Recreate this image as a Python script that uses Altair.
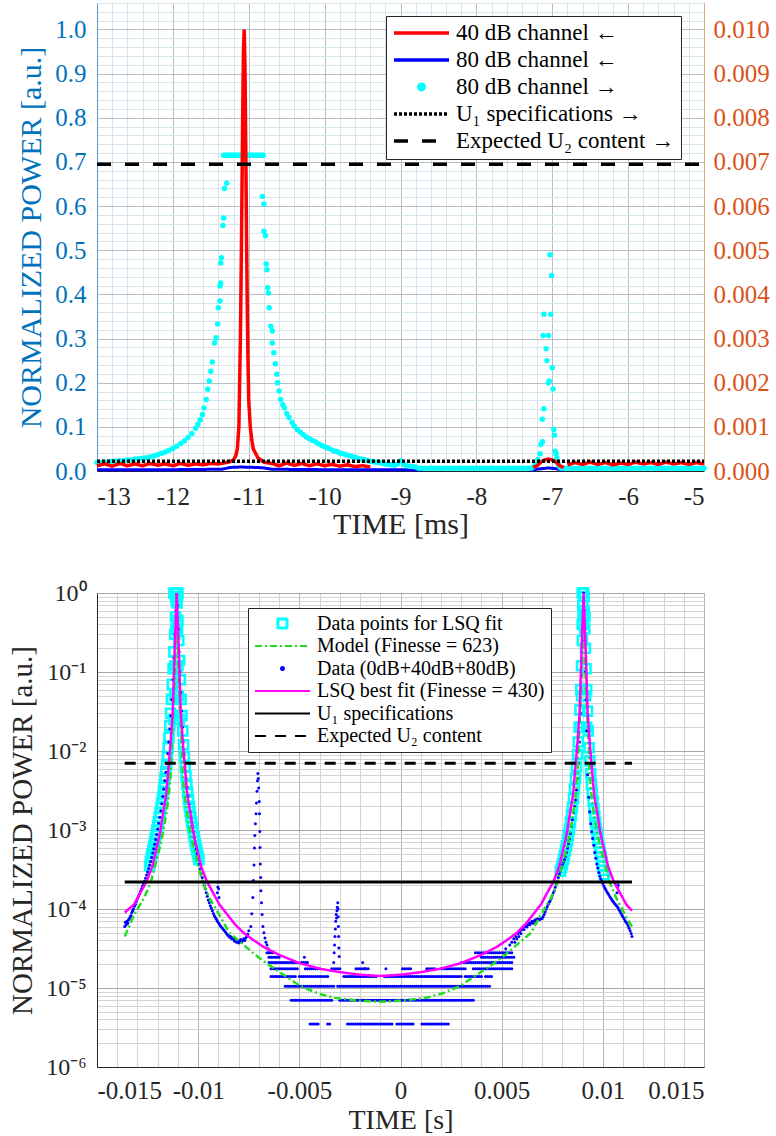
import altair as alt
import pandas as pd

FONT = "Liberation Serif"
INK = "#262626"
LEFT_C = "#0072BD"
RIGHT_C = "#D95319"

# ======================= TOP PANEL (time in ms) =======================
TOP_SERIES = ["40 dB channel ←", "80 dB channel ←", "80 dB channel →",
              "U₁ specifications →", "Expected U₂ content →"]
TOP_COLORS = ["#ff0000", "#0000ff", "#00ffff", "#000000", "#000000"]
TOP_SHAPES = ["stroke", "stroke", "circle", "stroke", "stroke"]
TOP_DASHES = [[1, 0], [1, 0], [1, 0], [3, 2], [14, 14]]
TOP_SIZES = [3025, 3025, 30, 3025, 3025]
TOP_T_RANGE = [-13, -5]

# 40 dB channel (left axis) – three visible stretches
red_seg1 = [(-13.0, 0.012), (-12.9, 0.016), (-12.8, 0.011), (-12.7, 0.017), (-12.6, 0.012),
            (-12.5, 0.016), (-12.4, 0.012), (-12.3, 0.017), (-12.2, 0.013), (-12.1, 0.016),
            (-12.0, 0.012), (-11.9, 0.017), (-11.8, 0.013), (-11.7, 0.016), (-11.6, 0.014),
            (-11.5, 0.017), (-11.4, 0.016), (-11.3, 0.019), (-11.25, 0.021), (-11.2, 0.025),
            (-11.17, 0.035), (-11.15, 0.05), (-11.13, 0.10), (-11.12, 0.20), (-11.11, 0.30),
            (-11.10, 0.45), (-11.09, 0.62), (-11.08, 0.80), (-11.07, 0.95), (-11.06, 1.0),
            (-11.05, 0.92), (-11.04, 0.75), (-11.03, 0.55), (-11.02, 0.38), (-11.01, 0.25),
            (-11.00, 0.16), (-10.98, 0.10), (-10.96, 0.07), (-10.94, 0.05), (-10.91, 0.04),
            (-10.88, 0.03), (-10.84, 0.025), (-10.8, 0.02), (-10.7, 0.017), (-10.6, 0.012),
            (-10.5, 0.018), (-10.4, 0.013), (-10.3, 0.017), (-10.2, 0.012), (-10.1, 0.016),
            (-10.0, 0.012), (-9.9, 0.015), (-9.8, 0.011), (-9.7, 0.014), (-9.6, 0.010),
            (-9.5, 0.012), (-9.4, 0.009)]
red_seg2 = [(-7.25, 0.008), (-7.2, 0.012), (-7.15, 0.02), (-7.1, 0.025), (-7.05, 0.027),
            (-7.0, 0.025), (-6.95, 0.02), (-6.9, 0.012), (-6.85, 0.008)]
red_seg3 = [(-6.8, 0.014), (-6.7, 0.019), (-6.6, 0.015), (-6.5, 0.02), (-6.4, 0.015),
            (-6.3, 0.019), (-6.2, 0.014), (-6.1, 0.018), (-6.0, 0.015), (-5.9, 0.02),
            (-5.8, 0.016), (-5.7, 0.019), (-5.6, 0.015), (-5.5, 0.02), (-5.4, 0.016),
            (-5.3, 0.019), (-5.2, 0.015), (-5.1, 0.019), (-5.0, 0.016)]

# 80 dB channel (left axis)
blue_seg1 = [(-13.0, 0.003), (-12.0, 0.003), (-11.35, 0.004), (-11.25, 0.008), (-11.1, 0.009),
             (-10.9, 0.008), (-10.8, 0.007), (-10.7, 0.004), (-10.0, 0.003), (-9.0, 0.003),
             (-8.7, 0.003)]
blue_seg2 = [(-7.3, 0.002), (-7.15, 0.005), (-7.05, 0.007), (-6.95, 0.005), (-6.85, 0.002)]

# 80 dB channel (right axis) – points
cyan_left = [(-13.00, 0.00019), (-12.95, 0.00019), (-12.90, 0.00020), (-12.85, 0.00021),
             (-12.80, 0.00022), (-12.75, 0.00022), (-12.70, 0.00023), (-12.65, 0.00024),
             (-12.60, 0.00025), (-12.55, 0.00025), (-12.50, 0.00027), (-12.45, 0.00028),
             (-12.40, 0.00029), (-12.35, 0.00030), (-12.30, 0.00032), (-12.25, 0.00034),
             (-12.20, 0.00037), (-12.15, 0.00040), (-12.10, 0.00043), (-12.05, 0.00047),
             (-12.00, 0.00051), (-11.95, 0.00056), (-11.90, 0.00062), (-11.85, 0.00068),
             (-11.80, 0.00076), (-11.75, 0.00085), (-11.70, 0.00097), (-11.67, 0.00106),
             (-11.64, 0.00116), (-11.61, 0.00128), (-11.59, 0.00143), (-11.56, 0.00162),
             (-11.54, 0.00185), (-11.52, 0.00204), (-11.50, 0.00226), (-11.48, 0.00247),
             (-11.45, 0.00290), (-11.43, 0.00302), (-11.41, 0.00333), (-11.40, 0.00370),
             (-11.38, 0.00385), (-11.38, 0.00419), (-11.37, 0.00426), (-11.37, 0.00471),
             (-11.36, 0.00483), (-11.34, 0.00556), (-11.33, 0.00573), (-11.32, 0.00640),
             (-11.29, 0.00652)]
cyan_sat_t = [-11.33, -11.31, -11.29, -11.27, -11.25, -11.23, -11.21, -11.19, -11.17, -11.15,
              -11.13, -11.11, -11.09, -11.07, -11.05, -11.03, -11.01, -10.99, -10.97, -10.95,
              -10.93, -10.91, -10.89, -10.87, -10.85, -10.83, -10.81]
CYAN_SAT = 0.00715
cyan_right = [(-10.82, 0.00622), (-10.80, 0.00605), (-10.80, 0.00543), (-10.78, 0.00533),
              (-10.77, 0.00469), (-10.76, 0.00456), (-10.75, 0.00415), (-10.74, 0.00403),
              (-10.73, 0.00370), (-10.71, 0.00328), (-10.69, 0.00317), (-10.69, 0.00290),
              (-10.67, 0.00268), (-10.65, 0.00243), (-10.63, 0.00219), (-10.62, 0.00200),
              (-10.60, 0.00181), (-10.58, 0.00162), (-10.55, 0.00150), (-10.53, 0.00143),
              (-10.50, 0.00130), (-10.47, 0.00121), (-10.43, 0.00110), (-10.40, 0.00102),
              (-10.36, 0.00094), (-10.32, 0.00088), (-10.28, 0.00082), (-10.24, 0.00077),
              (-10.20, 0.00073), (-10.16, 0.00069), (-10.12, 0.00066), (-10.08, 0.00062),
              (-10.04, 0.00058), (-10.00, 0.00055), (-9.96, 0.00052), (-9.92, 0.00049),
              (-9.88, 0.00046), (-9.84, 0.00044), (-9.80, 0.00041), (-9.76, 0.00039),
              (-9.72, 0.00037), (-9.68, 0.00035), (-9.64, 0.00033), (-9.60, 0.00031),
              (-9.56, 0.00029), (-9.52, 0.00027), (-9.48, 0.00026), (-9.44, 0.00024),
              (-9.40, 0.00022), (-9.36, 0.00021), (-9.32, 0.00020), (-9.28, 0.00019),
              (-9.24, 0.00017), (-9.20, 0.00016), (-9.16, 0.00015), (-9.12, 0.00014),
              (-9.08, 0.00013), (-9.04, 0.00016), (-9.00, 0.00023), (-8.96, 0.00015),
              (-8.92, 0.00012), (-8.88, 0.00011), (-8.84, 0.00010), (-8.80, 0.00009)]
cyan_spike = [(-7.03, 0.00490), (-7.01, 0.00443), (-7.11, 0.00355), (-7.02, 0.00355),
              (-7.12, 0.00307), (-7.05, 0.00307), (-7.08, 0.00277), (-7.07, 0.00250),
              (-7.00, 0.00234), (-7.05, 0.00200), (-7.04, 0.00204), (-6.99, 0.00186),
              (-7.11, 0.00141), (-7.13, 0.00117), (-6.98, 0.00094), (-6.97, 0.00081),
              (-7.13, 0.00066), (-7.15, 0.00060), (-7.16, 0.00039), (-6.96, 0.00045),
              (-6.95, 0.00039), (-6.94, 0.00030), (-7.19, 0.00026), (-7.22, 0.00015),
              (-6.92, 0.00015), (-7.25, 0.00009), (-6.90, 0.00009)]
cyan_flat_segments = [(-8.76, -7.28), (-6.88, -5.0)]
CYAN_FLAT = 0.00006
CYAN_STEP = 0.04

U1_TOP = 0.00022
U2_TOP = 0.00695

# ======================= BOTTOM PANEL (time in s) =======================
BOT_SERIES = ["Data points for LSQ fit", "Model (Finesse = 623)", "Data (0dB+40dB+80dB)",
              "LSQ best fit (Finesse = 430)", "U₁ specifications", "Expected U₂ content"]
BOT_COLORS = ["#00ffff", "#22dd22", "#0000ff", "#ff00ff", "#000000", "#000000"]
OPEN_SQUARE = "M-1,-1H1V1H-1Z M-0.8,-0.8V0.8H0.8V-0.8Z"
BOT_SHAPES = [OPEN_SQUARE, "stroke", "circle", "stroke", "stroke", "stroke"]
BOT_DASHES = [[1, 0], [7, 3, 2, 3], [1, 0], [1, 0], [1, 0], [11, 9]]
BOT_SIZES = [100, 3025, 9, 3025, 3025, 3025]
BOT_T_RANGE = [-0.015, 0.015]
BOT_LINE_SPAN = [-0.01363, 0.01144]
U1_BOT = 2.2e-4
U2_BOT = 7.0e-3

lsq_fit = [(-0.01363, 9.0e-5), (-0.01316, 1.15e-4), (-0.01286, 1.6e-4), (-0.01256, 2.2e-4),
           (-0.01226, 3.5e-4), (-0.01196, 7.5e-4), (-0.01186, 1.0e-3), (-0.01176, 1.5e-3),
           (-0.01161, 2.5e-3), (-0.01156, 3.2e-3), (-0.01146, 6.5e-3), (-0.01136, 1.3e-2),
           (-0.01126, 3.0e-2), (-0.01116, 0.2), (-0.0111, 0.5), (-0.01106, 1.0),
           (-0.01102, 0.5), (-0.01096, 0.2), (-0.01086, 0.03), (-0.01076, 0.013),
           (-0.01066, 6.5e-3), (-0.01056, 3.2e-3), (-0.01051, 2.5e-3), (-0.01036, 1.5e-3),
           (-0.01026, 1.0e-3), (-0.01016, 7.5e-4), (-0.00986, 3.5e-4), (-0.00956, 2.2e-4),
           (-0.00926, 1.6e-4), (-0.00896, 1.15e-4), (-0.00856, 8.5e-5), (-0.00816, 6.3e-5),
           (-0.00776, 5.0e-5), (-0.00736, 4.2e-5), (-0.00676, 3.3e-5), (-0.00596, 2.6e-5),
           (-0.00496, 2.05e-5), (-0.00396, 1.75e-5), (-0.00296, 1.58e-5), (-0.00196, 1.47e-5),
           (-0.001, 1.42e-5), (-0.00005, 1.47e-5), (0.00095, 1.58e-5), (0.00195, 1.75e-5),
           (0.00295, 2.05e-5), (0.00395, 2.6e-5), (0.00475, 3.3e-5), (0.00535, 4.2e-5),
           (0.00575, 5.0e-5), (0.00615, 6.3e-5), (0.00655, 8.5e-5), (0.00695, 1.15e-4),
           (0.00725, 1.6e-4), (0.00755, 2.2e-4), (0.00785, 3.5e-4), (0.00815, 7.5e-4),
           (0.00825, 1.0e-3), (0.00835, 1.5e-3), (0.0085, 2.5e-3), (0.00855, 3.2e-3),
           (0.00865, 6.5e-3), (0.00875, 1.3e-2), (0.00885, 3.0e-2), (0.00895, 0.2),
           (0.00901, 0.5), (0.00905, 1.0), (0.00909, 0.5), (0.00915, 0.2), (0.00925, 0.03),
           (0.00935, 0.013), (0.00945, 6.5e-3), (0.00955, 3.2e-3), (0.0096, 2.5e-3),
           (0.00975, 1.5e-3), (0.00985, 1.0e-3), (0.00995, 7.5e-4), (0.01025, 3.5e-4),
           (0.01055, 2.2e-4), (0.01085, 1.6e-4), (0.01115, 1.15e-4), (0.01144, 9.5e-5)]

model = [(-0.01363, 4.5e-5), (-0.01316, 8.5e-5), (-0.01266, 1.4e-4), (-0.01234, 2.2e-4),
         (-0.01201, 4.6e-4), (-0.01186, 6.5e-4), (-0.01168, 1.1e-3), (-0.01156, 1.7e-3),
         (-0.01146, 2.6e-3), (-0.01136, 5.0e-3), (-0.01131, 1.2e-2), (-0.01121, 4.0e-2),
         (-0.01114, 0.12), (-0.01109, 0.45), (-0.01106, 1.0), (-0.01103, 0.45),
         (-0.01098, 0.12), (-0.01091, 0.04), (-0.01081, 0.012), (-0.01076, 5.0e-3),
         (-0.01066, 2.6e-3), (-0.01056, 1.7e-3), (-0.01044, 1.1e-3), (-0.01026, 6.5e-4),
         (-0.01011, 4.6e-4), (-0.00978, 2.2e-4), (-0.00946, 1.4e-4), (-0.00896, 8.5e-5),
         (-0.00846, 5.0e-5), (-0.00786, 3.7e-5), (-0.00716, 2.6e-5), (-0.00656, 2.0e-5),
         (-0.00556, 1.35e-5), (-0.00496, 1.06e-5), (-0.00406, 8.5e-6), (-0.00326, 7.5e-6),
         (-0.00206, 6.9e-6), (-0.001, 6.7e-6), (0.00005, 6.9e-6), (0.00125, 7.5e-6),
         (0.00205, 8.5e-6), (0.00295, 1.06e-5), (0.00355, 1.35e-5), (0.00455, 2.0e-5),
         (0.00515, 2.6e-5), (0.00585, 3.7e-5), (0.00645, 5.0e-5), (0.00695, 8.5e-5),
         (0.00745, 1.4e-4), (0.00777, 2.2e-4), (0.0081, 4.6e-4), (0.00825, 6.5e-4),
         (0.00843, 1.1e-3), (0.00855, 1.7e-3), (0.00865, 2.6e-3), (0.00875, 5.0e-3),
         (0.0088, 1.2e-2), (0.0089, 4.0e-2), (0.00897, 0.12), (0.00902, 0.45),
         (0.00905, 1.0), (0.00908, 0.45), (0.00913, 0.12), (0.0092, 0.04), (0.0093, 0.012),
         (0.00935, 5.0e-3), (0.00945, 2.6e-3), (0.00955, 1.7e-3), (0.00967, 1.1e-3),
         (0.00985, 6.5e-4), (0.01, 4.6e-4), (0.01033, 2.2e-4), (0.01065, 1.4e-4),
         (0.01115, 8.0e-5), (0.01144, 6.0e-5)]

fit_points_left = [(-0.0124, 3.5e-4), (-0.01236, 4.0e-4), (-0.01232, 4.5e-4), (-0.01228, 5.0e-4),
                   (-0.01224, 5.6e-4), (-0.0122, 6.2e-4), (-0.01216, 7.0e-4), (-0.01212, 7.8e-4),
                   (-0.01208, 8.8e-4), (-0.01204, 1.0e-3), (-0.012, 1.12e-3), (-0.01196, 1.27e-3),
                   (-0.01192, 1.45e-3), (-0.01188, 1.65e-3), (-0.01184, 1.9e-3), (-0.0118, 2.2e-3),
                   (-0.01176, 2.6e-3), (-0.01172, 3.1e-3), (-0.01168, 3.7e-3), (-0.01164, 4.5e-3),
                   (-0.0116, 5.5e-3), (-0.01156, 6.8e-3), (-0.01152, 8.5e-3), (-0.01148, 1.1e-2),
                   (-0.01144, 1.5e-2), (-0.0114, 2.1e-2), (-0.01136, 3.0e-2), (-0.01132, 4.5e-2),
                   (-0.01128, 7.0e-2), (-0.01124, 0.11), (-0.0112, 0.18), (-0.01116, 0.3),
                   (-0.01112, 0.5), (-0.01108, 0.8), (-0.01106, 1.0), (-0.01112, 0.9),
                   (-0.01102, 0.9), (-0.0111, 0.35), (-0.01102, 0.35), (-0.01114, 0.12),
                   (-0.011, 0.12), (-0.01116, 0.05), (-0.01098, 0.05), (-0.0112, 0.025),
                   (-0.01094, 0.025), (-0.0112, 1.0), (-0.011, 1.0),
                   (-0.01104, 0.75), (-0.011, 0.45), (-0.01096, 0.25), (-0.01092, 0.14),
                   (-0.01088, 0.08), (-0.01084, 0.045), (-0.0108, 0.028), (-0.01076, 0.018),
                   (-0.01072, 0.012), (-0.01068, 8.5e-3), (-0.01064, 6.3e-3), (-0.0106, 4.8e-3),
                   (-0.01056, 3.8e-3), (-0.01052, 3.0e-3), (-0.01048, 2.45e-3), (-0.01044, 2.0e-3),
                   (-0.0104, 1.7e-3), (-0.01036, 1.45e-3), (-0.01032, 1.25e-3), (-0.01028, 1.08e-3),
                   (-0.01024, 9.4e-4), (-0.0102, 8.2e-4), (-0.01016, 7.2e-4), (-0.01012, 6.4e-4),
                   (-0.01008, 5.7e-4), (-0.01004, 5.1e-4), (-0.01, 4.6e-4), (-0.00996, 4.2e-4)]
fit_points_right = [(0.0079, 3.0e-4), (0.00795, 3.3e-4), (0.008, 3.7e-4), (0.00805, 4.2e-4),
                    (0.0081, 4.8e-4), (0.00815, 5.5e-4), (0.0082, 6.3e-4), (0.00825, 7.3e-4),
                    (0.0083, 8.6e-4), (0.00835, 1.02e-3), (0.0084, 1.25e-3), (0.00845, 1.55e-3),
                    (0.0085, 1.95e-3), (0.00855, 2.5e-3), (0.0086, 3.3e-3), (0.00865, 4.5e-3),
                    (0.0087, 6.3e-3), (0.00875, 9.0e-3), (0.00879, 1.3e-2), (0.00883, 2.0e-2),
                    (0.00887, 3.3e-2), (0.00891, 6.0e-2), (0.00895, 0.12), (0.00899, 0.25),
                    (0.00902, 0.5), (0.00905, 1.0), (0.00898, 1.0), (0.00908, 0.9), (0.00901, 0.7),
                    (0.00898, 0.4), (0.00912, 0.5), (0.00895, 0.05), (0.00915, 0.05),
                    (0.0089, 0.02), (0.0092, 0.02),
                    (0.00908, 0.6), (0.00911, 0.35), (0.00914, 0.2), (0.00917, 0.11),
                    (0.0092, 0.06), (0.00924, 0.032), (0.00928, 0.018), (0.00932, 0.011),
                    (0.00936, 7.5e-3), (0.0094, 5.2e-3), (0.00944, 3.8e-3), (0.00948, 2.9e-3),
                    (0.00952, 2.3e-3), (0.00956, 1.85e-3), (0.0096, 1.5e-3), (0.00964, 1.25e-3),
                    (0.00968, 1.05e-3), (0.00972, 9.0e-4), (0.00976, 7.8e-4), (0.0098, 6.8e-4),
                    (0.00984, 5.9e-4), (0.00988, 5.2e-4), (0.00992, 4.6e-4), (0.00996, 4.0e-4),
                    (0.01, 3.5e-4), (0.01004, 3.1e-4), (0.01008, 2.7e-4)]

data_left_peak = [(-0.01363, 6.0e-5), (-0.0136, 6.8e-5), (-0.01356, 6.3e-5), (-0.01352, 7.0e-5),
                  (-0.01348, 6.6e-5), (-0.01344, 7.3e-5), (-0.0134, 7.6e-5), (-0.01336, 8.0e-5),
                  (-0.01332, 8.3e-5), (-0.01328, 9.0e-5), (-0.01324, 9.5e-5), (-0.0132, 1.0e-4),
                  (-0.01315, 1.08e-4), (-0.0131, 1.15e-4), (-0.01305, 1.25e-4), (-0.013, 1.35e-4),
                  (-0.01295, 1.45e-4), (-0.0129, 1.55e-4), (-0.01285, 1.68e-4), (-0.0128, 1.8e-4),
                  (-0.01275, 1.95e-4), (-0.0127, 2.1e-4), (-0.01265, 2.25e-4), (-0.0126, 2.45e-4),
                  (-0.01255, 2.7e-4), (-0.0125, 2.95e-4), (-0.01245, 3.25e-4), (-0.0124, 3.6e-4),
                  (-0.01235, 4.0e-4), (-0.0123, 4.5e-4), (-0.01225, 5.1e-4), (-0.0122, 5.8e-4),
                  (-0.01215, 6.6e-4), (-0.0121, 7.6e-4), (-0.01205, 8.8e-4), (-0.012, 1.03e-3),
                  (-0.01195, 1.22e-3), (-0.0119, 1.45e-3), (-0.01185, 1.75e-3), (-0.0118, 2.15e-3),
                  (-0.01175, 2.65e-3), (-0.0117, 3.3e-3), (-0.01165, 4.2e-3), (-0.0116, 5.4e-3),
                  (-0.01155, 7.0e-3), (-0.0115, 9.3e-3), (-0.01145, 1.3e-2), (-0.0114, 1.9e-2),
                  (-0.01135, 2.8e-2), (-0.0113, 4.5e-2), (-0.01125, 8.0e-2), (-0.0112, 0.15),
                  (-0.01115, 0.3), (-0.0111, 0.6), (-0.01106, 0.95), (-0.01102, 0.7),
                  (-0.01098, 0.35), (-0.01094, 0.18), (-0.0109, 0.1), (-0.01086, 0.055),
                  (-0.01082, 0.032), (-0.01078, 0.02), (-0.01074, 0.013), (-0.0107, 9.0e-3),
                  (-0.01065, 6.3e-3), (-0.0106, 4.6e-3), (-0.01055, 3.5e-3), (-0.0105, 2.7e-3),
                  (-0.01045, 2.1e-3), (-0.0104, 1.7e-3), (-0.01035, 1.4e-3), (-0.0103, 1.15e-3),
                  (-0.01025, 9.6e-4), (-0.0102, 8.0e-4), (-0.01015, 6.8e-4), (-0.0101, 5.8e-4),
                  (-0.01005, 5.0e-4), (-0.01, 4.3e-4), (-0.00995, 3.7e-4), (-0.0099, 3.2e-4),
                  (-0.00985, 2.8e-4), (-0.0098, 2.5e-4), (-0.00975, 2.2e-4), (-0.0097, 2.0e-4),
                  (-0.00965, 1.8e-4), (-0.0096, 1.6e-4), (-0.00955, 1.45e-4), (-0.0095, 1.3e-4),
                  (-0.00945, 1.2e-4), (-0.0094, 1.1e-4), (-0.00935, 1.02e-4), (-0.0093, 9.5e-5),
                  (-0.00925, 8.8e-5), (-0.0092, 8.2e-5), (-0.00915, 7.8e-5), (-0.0091, 7.4e-5),
                  (-0.00905, 7.0e-5), (-0.009, 6.7e-5), (-0.00895, 6.4e-5), (-0.0089, 6.1e-5),
                  (-0.00885, 5.9e-5), (-0.0088, 5.7e-5), (-0.00875, 5.5e-5), (-0.0087, 5.3e-5),
                  (-0.00865, 5.1e-5), (-0.0086, 4.9e-5), (-0.00855, 4.7e-5), (-0.0085, 4.6e-5),
                  (-0.00845, 4.4e-5), (-0.0084, 4.5e-5), (-0.00835, 4.2e-5), (-0.0083, 4.3e-5),
                  (-0.00825, 4.1e-5), (-0.0082, 3.9e-5), (-0.00815, 4.2e-5), (-0.0081, 3.8e-5),
                  (-0.00805, 4.0e-5), (-0.008, 3.7e-5), (-0.00795, 3.9e-5), (-0.0079, 4.1e-5),
                  (-0.00785, 3.8e-5), (-0.0078, 4.0e-5), (-0.00775, 4.2e-5), (-0.0077, 4.0e-5),
                  (-0.00765, 4.3e-5), (-0.0076, 4.5e-5), (-0.00755, 4.8e-5), (-0.0075, 5.3e-5),
                  (-0.00905, 1.6e-4), (-0.00903, 1.9e-4), (-0.00901, 2.2e-4), (-0.00899, 1.8e-4),
                  (-0.00897, 1.4e-4)]
data_spike_a = [(-0.0074, 6.0e-5), (-0.00735, 8.7e-5), (-0.0073, 1.4e-4), (-0.00727, 2.3e-4),
                (-0.00724, 3.6e-4), (-0.00722, 5.9e-4), (-0.0072, 8.5e-4), (-0.00717, 1.2e-3),
                (-0.00714, 1.6e-3), (-0.00712, 2.2e-3), (-0.00709, 3.1e-3), (-0.00707, 4.2e-3),
                (-0.00705, 5.2e-3), (-0.00703, 4.5e-3), (-0.00701, 3.4e-3), (-0.00698, 2.3e-3),
                (-0.00697, 1.6e-3), (-0.00695, 9.6e-4), (-0.00694, 6.0e-4), (-0.00693, 3.7e-4),
                (-0.00691, 2.5e-4), (-0.0069, 1.7e-4), (-0.00687, 1.2e-4), (-0.00684, 8.5e-5),
                (-0.0068, 6.0e-5), (-0.00675, 5.0e-5), (-0.0067, 4.3e-5), (-0.00665, 3.8e-5),
                (-0.0066, 3.5e-5), (-0.00655, 3.15e-5), (-0.0065, 2.8e-5)]
data_spike_b = [(-0.0033, 2.1e-5), (-0.00328, 2.8e-5), (-0.00326, 3.5e-5), (-0.00324, 4.5e-5),
                (-0.00322, 5.6e-5), (-0.0032, 7.0e-5), (-0.00318, 8.5e-5), (-0.00316, 7.7e-5),
                (-0.00314, 9.5e-5), (-0.00312, 1.05e-4), (-0.0031, 1.2e-4), (-0.00309, 1.0e-4),
                (-0.00308, 8.0e-5), (-0.00307, 6.0e-5), (-0.00306, 4.5e-5), (-0.00305, 3.2e-5),
                (-0.00303, 2.5e-5), (-0.00475, 2.45e-5), (-0.00187, 2.1e-5),
                (-0.00072, 1.75e-5), (-0.00176, 1.75e-5)]
data_right_peak = [(0.0052, 3.15e-5), (0.0054, 3.5e-5), (0.0055, 3.8e-5), (0.0056, 4.2e-5),
                   (0.00565, 3.8e-5), (0.0057, 4.5e-5), (0.00575, 4.2e-5), (0.0058, 4.9e-5),
                   (0.00585, 4.5e-5), (0.0059, 5.2e-5), (0.00595, 4.9e-5), (0.006, 5.5e-5),
                   (0.00605, 5.9e-5), (0.0061, 5.5e-5), (0.00615, 6.0e-5), (0.0062, 6.2e-5),
                   (0.00625, 5.9e-5), (0.0063, 6.3e-5), (0.00635, 6.6e-5), (0.0064, 6.3e-5),
                   (0.00645, 6.7e-5), (0.0065, 7.0e-5), (0.00655, 6.6e-5), (0.0066, 7.0e-5),
                   (0.00665, 7.3e-5), (0.0067, 7.0e-5), (0.00675, 7.4e-5), (0.0068, 7.5e-5),
                   (0.00685, 7.3e-5), (0.0069, 7.4e-5), (0.00695, 7.5e-5), (0.007, 7.6e-5),
                   (0.00705, 8.0e-5), (0.0071, 8.5e-5), (0.00715, 9.2e-5), (0.0072, 1.0e-4),
                   (0.00725, 1.07e-4), (0.0073, 1.15e-4), (0.00735, 1.22e-4), (0.0074, 1.27e-4),
                   (0.00745, 1.37e-4), (0.0075, 1.48e-4), (0.00755, 1.6e-4), (0.0076, 1.72e-4),
                   (0.00765, 1.88e-4), (0.0077, 2.05e-4), (0.00775, 2.25e-4), (0.0078, 2.5e-4),
                   (0.00785, 2.75e-4), (0.0079, 3.0e-4), (0.00795, 3.3e-4), (0.008, 3.6e-4),
                   (0.00805, 3.9e-4), (0.0081, 4.2e-4), (0.00815, 4.6e-4), (0.0082, 5.2e-4),
                   (0.00825, 5.9e-4), (0.0083, 6.7e-4), (0.00835, 7.7e-4), (0.0084, 9.0e-4),
                   (0.00845, 1.1e-3), (0.0085, 1.35e-3), (0.00855, 1.65e-3), (0.0086, 2.0e-3),
                   (0.00865, 2.4e-3), (0.0087, 3.2e-3), (0.00875, 4.5e-3), (0.0088, 7.0e-3),
                   (0.00885, 1.3e-2), (0.0089, 3.0e-2), (0.00895, 0.09), (0.009, 0.35),
                   (0.00903, 0.8), (0.00905, 1.0), (0.00908, 0.6), (0.00911, 0.25), (0.00914, 0.1),
                   (0.00917, 0.045), (0.0092, 0.018), (0.00925, 5.0e-3), (0.0093, 2.6e-3),
                   (0.00935, 1.7e-3), (0.0094, 1.2e-3), (0.00945, 9.5e-4), (0.0095, 7.8e-4),
                   (0.00955, 6.4e-4), (0.0096, 5.2e-4), (0.00965, 4.4e-4), (0.0097, 3.7e-4),
                   (0.00975, 3.3e-4), (0.0098, 2.9e-4), (0.00985, 2.6e-4), (0.0099, 2.4e-4),
                   (0.00995, 2.25e-4), (0.01, 2.1e-4), (0.01005, 1.95e-4), (0.0101, 1.85e-4),
                   (0.01015, 1.75e-4), (0.0102, 1.65e-4), (0.01025, 1.58e-4), (0.0103, 1.5e-4),
                   (0.01035, 1.43e-4), (0.0104, 1.37e-4), (0.01045, 1.3e-4), (0.0105, 1.25e-4),
                   (0.01055, 1.2e-4), (0.0106, 1.16e-4), (0.01065, 1.12e-4), (0.0107, 1.08e-4),
                   (0.01075, 1.04e-4), (0.0108, 9.8e-5), (0.01085, 9.3e-5), (0.0109, 8.8e-5),
                   (0.01095, 8.3e-5), (0.011, 7.9e-5), (0.01105, 7.5e-5), (0.0111, 7.1e-5),
                   (0.01115, 6.8e-5), (0.0112, 6.5e-5), (0.01125, 6.1e-5), (0.0113, 5.7e-5),
                   (0.01135, 5.3e-5), (0.0114, 4.9e-5), (0.01144, 4.5e-5),
                   (0.0107, 1.6e-4), (0.01072, 1.9e-4), (0.01074, 2.2e-4), (0.01076, 2.0e-4)]
# quantised noise floor: detector level -> time stretches where samples sit on it
data_rows = {
    3.5e-6: [(-0.00447, -0.00407), (-0.0036, -0.0035), (-0.00262, -0.0004),
             (-0.00018, 0.00057), (0.00106, 0.0024)],
    7.0e-6: [(-0.0054, -0.0034), (-0.003, 0.0036)],
    1.05e-5: [(-0.0057, -0.0033), (-0.0031, 0.0044)],
    1.4e-5: [(-0.0064, -0.0052), (-0.005, -0.0036), (-0.0028, -0.0012), (-0.0008, 0.003),
             (0.0032, 0.004), (0.0042, 0.0045)],
    1.75e-5: [(-0.0064, -0.0051), (-0.0047, -0.004), (-0.0034, -0.003), (-0.0022, -0.0016),
              (0.0001, 0.0005), (0.0013, 0.0017), (0.002, 0.0032), (0.0036, 0.0055)],
    2.1e-5: [(-0.0065, -0.0051), (-0.0049, -0.0046), (0.003, 0.0055)],
    2.45e-5: [(-0.0065, -0.006), (0.004, 0.0056)],
    2.8e-5: [(-0.0066, -0.0063), (0.0037, 0.0055)],
}
ROW_STEP = 0.0001


# ======================= helpers =======================
def frame(pairs, series, field, seg=0):
    return pd.DataFrame({"t": [p[0] for p in pairs], "v": [p[1] for p in pairs],
                         field: series, "seg": seg})


def stretch(segments, level, step):
    out = []
    for a, b in segments:
        n = int(round((b - a) / step))
        out += [(a + k * step, level) for k in range(n + 1)]
    return out


def cond(test, yes, no):
    return {"condition": {"test": test, "value": yes}, "value": no}


GRID_MAJOR = "#b3bec6"
GRID_MINOR = "#d6e4ec"

# ======================= TOP PANEL =======================
red_df = pd.concat([frame(red_seg1, TOP_SERIES[0], "s1", 1), frame(red_seg2, TOP_SERIES[0], "s1", 2),
                    frame(red_seg3, TOP_SERIES[0], "s1", 3)])
blue_df = pd.concat([frame(blue_seg1, TOP_SERIES[1], "s1", 1), frame(blue_seg2, TOP_SERIES[1], "s1", 2)])
cyan_pairs = (cyan_left + [(t, CYAN_SAT) for t in cyan_sat_t] + cyan_right + cyan_spike
              + stretch(cyan_flat_segments, CYAN_FLAT, CYAN_STEP))
cyan_df = frame(cyan_pairs, TOP_SERIES[2], "s1")
black_top_df = pd.concat([
    frame([(TOP_T_RANGE[0], U1_TOP), (TOP_T_RANGE[1], U1_TOP)], TOP_SERIES[3], "s1"),
    frame([(TOP_T_RANGE[0], U2_TOP), (TOP_T_RANGE[1], U2_TOP)], TOP_SERIES[4], "s1")])

top_legend = alt.Legend(title=None, orient="none", legendX=289, legendY=13,
                        labelFont=FONT, labelFontSize=23, labelColor="black", labelLimit=400,
                        strokeColor=INK, fillColor="white", padding=6, rowPadding=4,
                        clipHeight=22, labelOffset=5, symbolStrokeWidth=3.5, cornerRadius=0)

x_top_ticks = [round(-13 + 0.2 * i, 1) for i in range(41)]
is_int = "abs(datum.value - round(datum.value)) < 0.001"
x_top = alt.X("t:Q", title="TIME [ms]",
              scale=alt.Scale(domain=TOP_T_RANGE, nice=False, zero=False),
              axis=alt.Axis(values=x_top_ticks, grid=True,
                            gridColor=cond(is_int, GRID_MAJOR, GRID_MINOR),
                            labelExpr=is_int + " ? replace(format(datum.value, 'd'), '\u2212', '-') : ''",
                            labelFontSize=cond(is_int, 25, 0),
                            ticks=False, tickSize=0, domainColor=INK, labelColor=INK, titleColor=INK,
                            labelFont=FONT, titleFont=FONT, titleFontSize=30,
                            titleFontWeight="normal", labelPadding=13, titlePadding=0,
                            labelOverlap=False))

yl_ticks = [round(0.02 * i, 2) for i in range(54)]
is_tenth = "abs(datum.value * 10 - round(datum.value * 10)) < 0.001"
yL_scale = alt.Scale(domain=[0, 1.06], nice=False, zero=False)
yR_scale = alt.Scale(domain=[0, 0.0106], nice=False, zero=False)
yL_axis = alt.Axis(values=yl_ticks, grid=True, gridColor=cond(is_tenth, GRID_MAJOR, GRID_MINOR),
                   labelExpr=is_tenth + " ? format(datum.value, '.1f') : ''",
                   labelFontSize=cond(is_tenth, 25, 0),
                   ticks=False, tickSize=0, domainColor="#5a9bcb", labelColor=LEFT_C,
                   titleColor=LEFT_C, labelFont=FONT, titleFont=FONT,
                   titleFontSize=30, titleFontWeight="normal", labelPadding=11, titlePadding=8,
                   labelOverlap=False)
yR_axis = alt.Axis(orient="right", values=[round(0.001 * i, 3) for i in range(11)], format=".3f",
                   grid=False, ticks=False, tickSize=0, domainColor="#e0a886", labelColor=RIGHT_C,
                   labelFont=FONT, labelFontSize=25, labelPadding=9, title=None, labelOverlap=False)

top_color = alt.Color("s1:N", scale=alt.Scale(domain=TOP_SERIES, range=TOP_COLORS), legend=top_legend)
top_dash = alt.StrokeDash("s1:N", scale=alt.Scale(domain=TOP_SERIES, range=TOP_DASHES), legend=top_legend)
top_shape = alt.Shape("s1:N", scale=alt.Scale(domain=TOP_SERIES, range=TOP_SHAPES), legend=top_legend)
top_size = alt.Size("s1:N", scale=alt.Scale(type="ordinal", domain=TOP_SERIES, range=TOP_SIZES),
                    legend=top_legend)

blue_layer = alt.Chart(blue_df).mark_line(strokeWidth=3).encode(
    x=x_top, y=alt.Y("v:Q", scale=yL_scale, axis=yL_axis, title="NORMALIZED POWER [a.u.]"),
    color=top_color, strokeDash=top_dash, detail="seg:N")
cyan_layer = alt.Chart(cyan_df).mark_point(filled=True, opacity=1).encode(
    x=x_top, y=alt.Y("v:Q", scale=yR_scale, axis=yR_axis),
    color=top_color, shape=top_shape, size=top_size)
red_layer = alt.Chart(red_df).mark_line(strokeWidth=3.5).encode(
    x=x_top, y=alt.Y("v:Q", scale=yL_scale, axis=None),
    color=top_color, strokeDash=top_dash, detail="seg:N")
black_top_layer = alt.Chart(black_top_df).mark_line(strokeWidth=3.5).encode(
    x=x_top, y=alt.Y("v:Q", scale=yR_scale, axis=None),
    color=top_color, strokeDash=top_dash)

top = alt.layer(blue_layer, cyan_layer, red_layer, black_top_layer).resolve_scale(
    y="independent").properties(width=607, height=468)

# ======================= BOTTOM PANEL =======================
fit_df = frame(fit_points_left + fit_points_right, BOT_SERIES[0], "s2")
model_df = frame(model, BOT_SERIES[1], "s2")
row_pairs = []
for level, segs in data_rows.items():
    row_pairs += stretch(segs, level, ROW_STEP)
data_df = frame(data_left_peak + data_spike_a + data_spike_b + data_right_peak + row_pairs,
                BOT_SERIES[2], "s2")
lsq_df = frame(lsq_fit, BOT_SERIES[3], "s2")
black_bot_df = pd.concat([
    frame([(BOT_LINE_SPAN[0], U1_BOT), (BOT_LINE_SPAN[1], U1_BOT)], BOT_SERIES[4], "s2"),
    frame([(BOT_LINE_SPAN[0], U2_BOT), (BOT_LINE_SPAN[1], U2_BOT)], BOT_SERIES[5], "s2")])

bot_legend = alt.Legend(title=None, orient="none", legendX=151, legendY=15,
                        labelFont=FONT, labelFontSize=20, labelColor="black", labelLimit=400,
                        strokeColor=INK, fillColor="white", padding=6, rowPadding=1.5,
                        clipHeight=19, labelOffset=6, symbolStrokeWidth=2, cornerRadius=0)

x_bot_ticks = [round(-0.015 + 0.001 * i, 3) for i in range(31)]
is_5ms = "abs(datum.value * 200 - round(datum.value * 200)) < 0.001"
x_bot = alt.X("t:Q", title="TIME [s]",
              scale=alt.Scale(domain=BOT_T_RANGE, nice=False, zero=False),
              axis=alt.Axis(values=x_bot_ticks, grid=True,
                            gridColor=cond(is_5ms, "#b4b4b4", "#d4d4d4"),
                            labelExpr=is_5ms + " ? replace(format(datum.value, '~g'), '\u2212', '-') : ''",
                            labelFontSize=cond(is_5ms, 25, 0),
                            ticks=False, tickSize=0, domainColor=INK, labelColor=INK, titleColor=INK,
                            labelFont=FONT, titleFont=FONT, titleFontSize=28,
                            titleFontWeight="normal", labelPadding=11, titlePadding=3,
                            labelOverlap=False))

y_bot_ticks = [float(f"{k}e{e}") for e in range(-6, 0) for k in range(1, 10)] + [1.0]
is_decade = "abs(log(datum.value) / LN10 - round(log(datum.value) / LN10)) < 0.001"
y_bot = alt.Y("v:Q", title="NORMALIZED POWER [a.u.]",
              scale=alt.Scale(type="log", domain=[1e-6, 1], nice=False),
              axis=alt.Axis(values=y_bot_ticks, grid=True,
                            gridColor=cond(is_decade, "#a6a6a6", "#d4d4d4"),
                            labelExpr=is_decade + " ? '10' + ['⁰','⁻¹','⁻²','⁻³','⁻⁴','⁻⁵','⁻⁶'][-round(log(datum.value) / LN10)] : ''",
                            labelFontSize=cond(is_decade, 24, 0),
                            ticks=False, tickSize=0, domainColor=INK, labelColor=INK, titleColor=INK,
                            labelFont=FONT, titleFont=FONT, titleFontSize=29,
                            titleFontWeight="normal", labelPadding=11, titlePadding=8,
                            labelOverlap=False))

bot_color = alt.Color("s2:N", scale=alt.Scale(domain=BOT_SERIES, range=BOT_COLORS), legend=bot_legend)
bot_dash = alt.StrokeDash("s2:N", scale=alt.Scale(domain=BOT_SERIES, range=BOT_DASHES), legend=bot_legend)
bot_shape = alt.Shape("s2:N", scale=alt.Scale(domain=BOT_SERIES, range=BOT_SHAPES), legend=bot_legend)
bot_size = alt.Size("s2:N", scale=alt.Scale(type="ordinal", domain=BOT_SERIES, range=BOT_SIZES),
                    legend=bot_legend)

fit_layer = alt.Chart(fit_df).mark_point(filled=False, strokeWidth=1.6, opacity=1).encode(
    x=x_bot, y=y_bot, color=bot_color, shape=bot_shape, size=bot_size)
data_layer = alt.Chart(data_df).mark_point(filled=True, opacity=1).encode(
    x=x_bot, y=y_bot, color=bot_color, shape=bot_shape, size=bot_size)
model_layer = alt.Chart(model_df).mark_line(strokeWidth=2.5).encode(
    x=x_bot, y=y_bot, color=bot_color, strokeDash=bot_dash)
lsq_layer = alt.Chart(lsq_df).mark_line(strokeWidth=2.5).encode(
    x=x_bot, y=y_bot, color=bot_color, strokeDash=bot_dash)
black_bot_layer = alt.Chart(black_bot_df).mark_line(strokeWidth=3).encode(
    x=x_bot, y=y_bot, color=bot_color, strokeDash=bot_dash)

bottom = alt.layer(fit_layer, data_layer, model_layer, lsq_layer, black_bot_layer).properties(
    width=607, height=474)

chart = alt.vconcat(top, bottom, spacing=40).resolve_scale(
    x="independent", y="independent", color="independent", strokeDash="independent",
    shape="independent", size="independent").properties(
    padding={"left": 8, "top": 2, "right": 2, "bottom": 0}
).configure_view(stroke=INK, strokeWidth=1).configure(background="white")

chart.save("out.html", embed_options={"renderer": "svg", "actions": False})
